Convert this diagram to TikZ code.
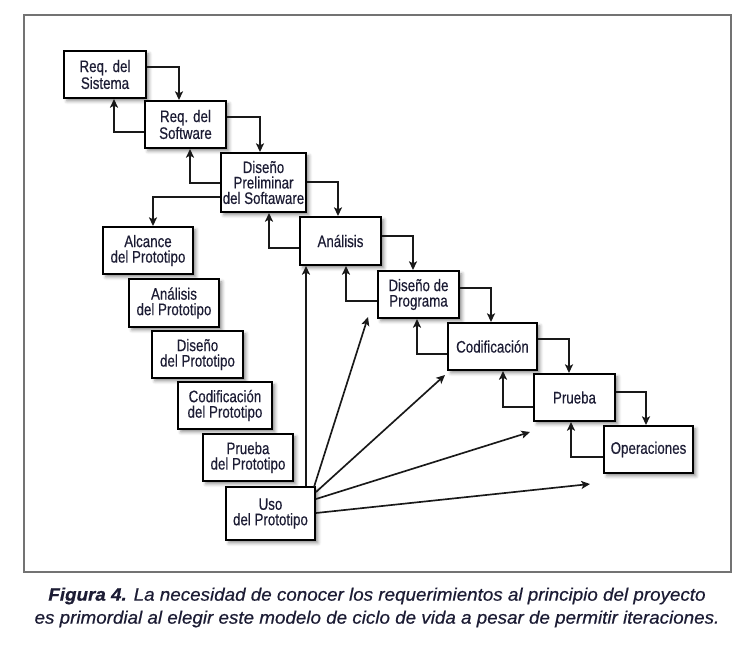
\documentclass[tikz,border=0pt]{standalone}
\usepackage{fontspec}
\setmainfont{Liberation Sans}[FakeStretch=0.8,FakeBold=0.4]
\newfontfamily\capfont{Liberation Sans}[FakeStretch=1.045,FakeBold=0.6]
\usetikzlibrary{arrows.meta,shadows.blur,calc}
\definecolor{txt}{RGB}{28,28,52}
\definecolor{frm}{RGB}{115,115,115}
\tikzset{
  stage/.style={draw=black, line width=1.5pt, fill=white, text=txt, align=center,
    font=\fontsize{12.5}{11.6}\selectfont, inner sep=0pt,
    blur shadow={shadow xshift=2.2pt, shadow yshift=-2.2pt, shadow blur radius=2.5pt, shadow opacity=45}},
  sz/.style 2 args={minimum width=#1*0.75pt, minimum height=#2*0.75pt},
  arr/.style={draw=black!90, line width=1.25pt, -{Stealth[length=6.5pt,width=6pt,inset=1.5pt]}},
}
\begin{document}
\begin{tikzpicture}[x=0.75pt,y=-0.75pt]
\useasboundingbox (0,0) rectangle (751,644);
\draw[frm, line width=1.2pt] (24,15) rectangle (731,572);

% waterfall
\node[stage, sz={82}{47}] (sis) at (105,74.5) {Req. del\\Sistema};
\node[stage, sz={81}{47}] (sw)  at (185.5,124.5) {Req. del\\Software};
\node[stage, sz={85}{59}] (pre) at (263.5,182.5) {Diseño\\Preliminar\\del Softaware};
\node[stage, sz={81}{48}] (ana) at (340.5,241) {Análisis};
\node[stage, sz={81}{47}] (dp)  at (418.5,294.5) {Diseño de\\Programa};
\node[stage, sz={89}{47}] (cod) at (492.5,346.5) {Codificación};
\node[stage, sz={81}{47}] (pru) at (574.5,397.5) {Prueba};
\node[stage, sz={89}{47}] (ope) at (648.5,449.5) {Operaciones};

% prototype column
\node[stage, sz={90}{47}] (alc) at (148,250.5) {Alcance\\del Prototipo};
\node[stage, sz={90}{48}] (anp) at (174,303) {Análisis\\del Prototipo};
\node[stage, sz={91}{47}] (dip) at (197.5,354.5) {Diseño\\del Prototipo};
\node[stage, sz={94}{47}] (cop) at (225,405.5) {Codificación\\del Prototipo};
\node[stage, sz={90}{47}] (prp) at (248,457.5) {Prueba\\del Prototipo};
\node[stage, sz={89}{53}] (uso) at (270.5,513.5) {Uso\\del Prototipo};

% forward arrows
\draw[arr] (sis.east |- 0,67)  -| (179,0 |- sw.north);
\draw[arr] (sw.east |- 0,117)  -| (260,0 |- pre.north);
\draw[arr] (pre.east |- 0,182) -| (338,0 |- ana.north);
\draw[arr] (ana.east |- 0,236) -| (413,0 |- dp.north);
\draw[arr] (dp.east |- 0,288)  -| (491,0 |- cod.north);
\draw[arr] (cod.east |- 0,339) -| (569,0 |- pru.north);
\draw[arr] (pru.east |- 0,392) -| (646,0 |- ope.north);

% backward arrows
\draw[arr] (sw.west |- 0,132)  -| (114,0 |- sis.south);
\draw[arr] (pre.west |- 0,183) -| (190,0 |- sw.south);
\draw[arr] (ana.west |- 0,248) -| (269,0 |- pre.south);
\draw[arr] (dp.west |- 0,301)  -| (346,0 |- ana.south);
\draw[arr] (cod.west |- 0,354) -| (417,0 |- dp.south);
\draw[arr] (pru.west |- 0,407) -| (503,0 |- cod.south);
\draw[arr] (ope.west |- 0,457) -| (571,0 |- pru.south);

% to prototype
\draw[arr] (pre.west |- 0,197) -| (153,0 |- alc.north);

% from Uso del Prototipo
\coordinate (t1) at (368,317);
\coordinate (t2) at (445,375);
\coordinate (t3) at (530,432);
\coordinate (t4) at (590,484);
\draw[arr] (306,0 |- uso.north) -- (306,0 |- ana.south);
\draw[arr] ($(uso.north east)+(-2,1)$) -- (t1);
\draw[arr] ($(uso.north east)+(0,6)$) -- (t2);
\draw[arr] ($(uso.north east)+(0,13)$) -- (t3);
\draw[arr] ($(uso.north east)+(0,27)$) -- (t4);

% caption
\node[text=txt, font=\capfont\fontsize{13.5}{15}\selectfont, inner sep=0pt] (cap1) at (377,596)
  {\textbf{\textit{Figura 4.}} \textit{La necesidad de conocer los requerimientos al principio del proyecto}};
\node[text=txt, font=\capfont\fontsize{13.5}{15}\selectfont, inner sep=0pt] (cap2) at (377,619)
  {\textit{es primordial al elegir este modelo de ciclo de vida a pesar de permitir iteraciones.}};
\end{tikzpicture}
\end{document}
